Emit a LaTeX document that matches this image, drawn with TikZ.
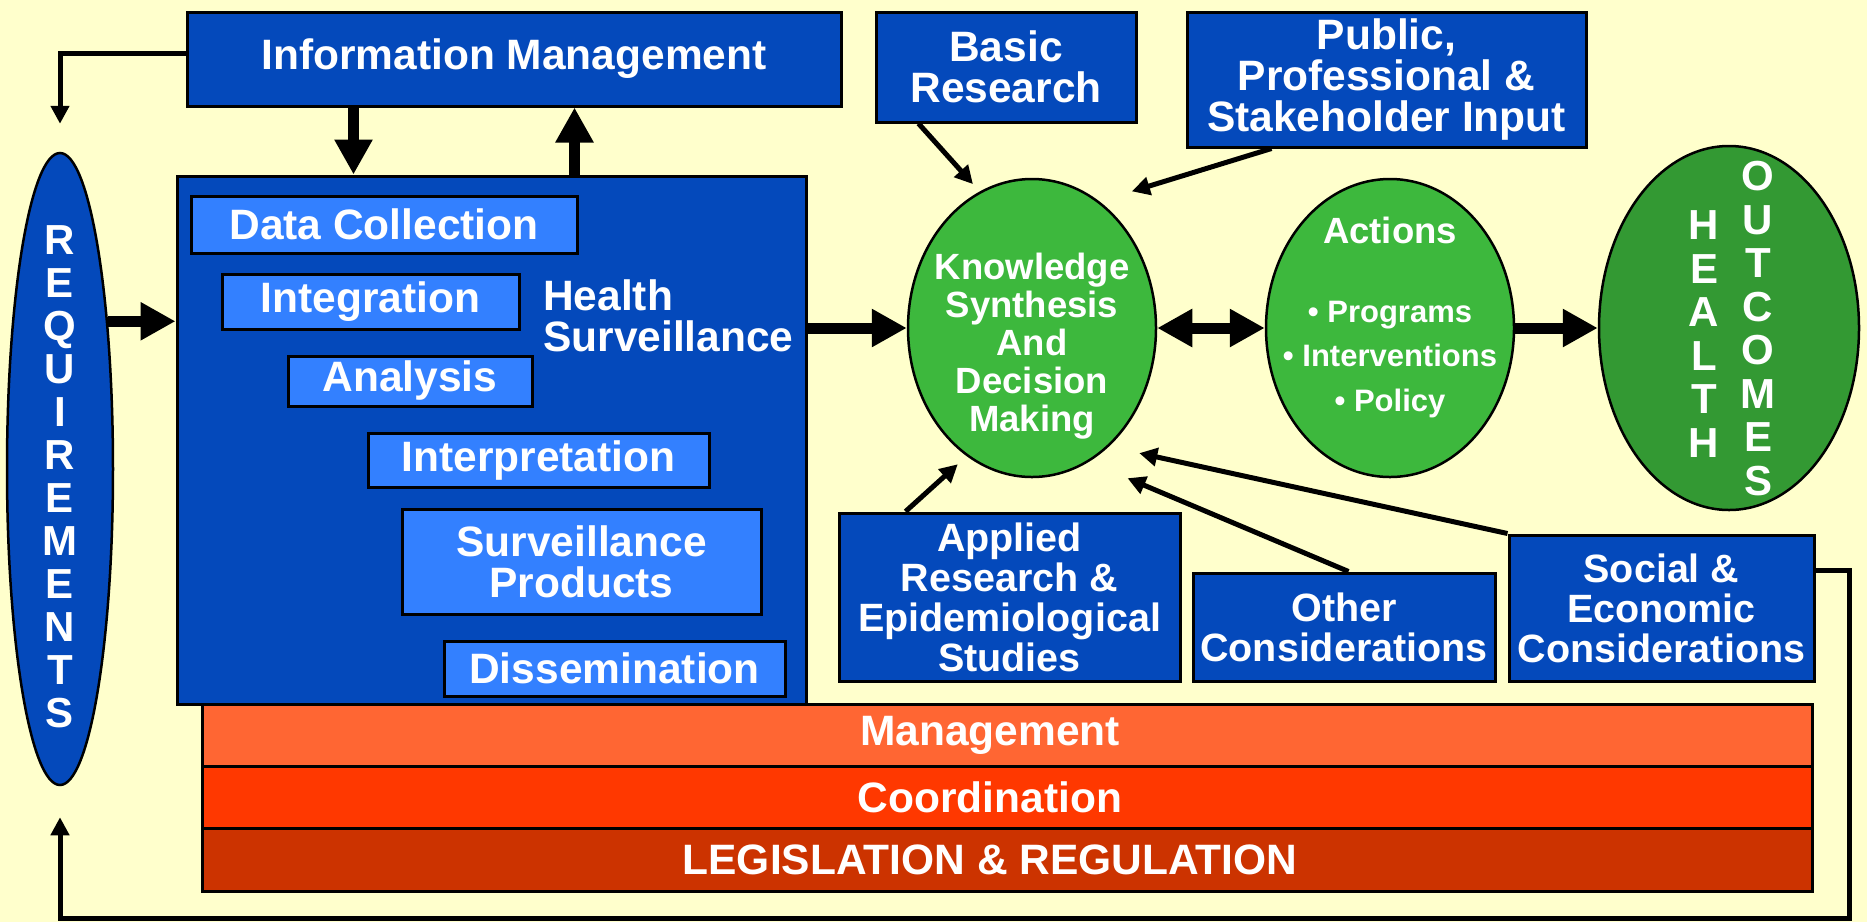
\documentclass[tikz,border=0pt]{standalone}
\usepackage{fontspec}
\setmainfont{Liberation Sans}
\usetikzlibrary{shapes.geometric, arrows.meta, positioning, calc}
\definecolor{paper}{RGB}{255,255,204}
\definecolor{darkblue}{RGB}{4,73,187}
\definecolor{lightblue}{RGB}{51,128,255}
\definecolor{leafgreen}{RGB}{61,184,61}
\definecolor{deepgreen}{RGB}{51,153,51}
\definecolor{mgmtorange}{RGB}{255,102,51}
\definecolor{coordred}{RGB}{255,56,0}
\definecolor{legisred}{RGB}{204,51,0}
\newcommand{\boxfont}{\fontsize{42.5}{41}\selectfont\bfseries}
\newcommand{\barpad}{\hspace*{34pt}}

\begin{document}
\begin{tikzpicture}[
    x=1pt, y=-1pt,
    box/.style={rectangle, draw=black, line width=3pt, fill=darkblue, text=white, align=center, inner sep=0pt, font=\boxfont},
    subbox/.style={box, fill=lightblue},
    smallbox/.style={box, font=\fontsize{39.5}{40}\selectfont\bfseries},
    bar/.style={box, minimum width=1610pt, minimum height=62pt},
    oval/.style={ellipse, draw=black, line width=2.5pt, fill=leafgreen, inner sep=0pt},
    ovaltext/.style={text=white, align=center, inner sep=0pt},
    bigarrow/.style={-{Triangle[length=35pt,width=36pt]}, line width=11pt},
    bothways/.style={{Triangle[length=35pt,width=36pt]}-{Triangle[length=35pt,width=36pt]}, line width=11pt},
    thinarrow/.style={-{Triangle[length=18pt,width=18pt]}, line width=5pt}
]
% Background
\fill[paper] (0,0) rectangle (1867,922);
\useasboundingbox (0,0) rectangle (1867,922);

% Top row
\node[box, minimum width=654pt, minimum height=94pt] (info) at (514,59) {Information Management};
\node[box, minimum width=260pt, minimum height=110pt] (basic) at (1006,67) {Basic\\Research};
\node[box, minimum width=399pt, minimum height=135pt] (pub) at (1386.5,79.5) {Public,\\Professional \&\\Stakeholder Input};

% Requirements
\node[oval, fill=darkblue, minimum width=106pt, minimum height=632pt] (req) at (60,469) {};
\node[ovaltext, font=\fontsize{42}{43}\selectfont\bfseries] (reqtext) at (60,476.5) {R\\E\\Q\\U\\I\\R\\E\\M\\E\\N\\T\\S};

% Health surveillance
\node[box, minimum width=629pt, minimum height=528pt] (hs) at (491.5,440) {};
\node[ovaltext, anchor=west, align=left, font=\boxfont] (hslabel) at (543,316) {Health\\Surveillance};
\node[subbox, minimum width=386pt, minimum height=57pt] (dc) at (384,224.5) {Data Collection};
\node[subbox, minimum width=297pt, minimum height=55pt] (integ) at (370.5,301.5) {Integration};
\node[subbox, minimum width=244pt, minimum height=50pt] (anal) at (410,381) {Analysis};
\node[subbox, minimum width=341pt, minimum height=54pt] (interp) at (538.5,460) {Interpretation};
\node[subbox, minimum width=359pt, minimum height=105pt] (sprod) at (581.5,561.5) {Surveillance\\Products};
\node[subbox, minimum width=341pt, minimum height=55pt] (dissem) at (614.5,668.5) {Dissemination};

% Bars
\node[bar, fill=mgmtorange] (mgmt) at (1007,735) {Management\barpad};
\node[bar, fill=coordred] (coord) at (1007,797) {Coordination\barpad};
\node[bar, fill=legisred, minimum height=63pt] (legis) at (1007,859.5) {LEGISLATION \& REGULATION\barpad};

% Knowledge, actions, outcomes
\node[oval, minimum width=248pt, minimum height=298pt] (kn) at (1032,328) {};
\node[ovaltext, font=\fontsize{36.5}{38}\selectfont\bfseries] (kntext) at (1032,346.6) {Knowledge\\Synthesis\\And\\Decision\\Making};
\node[oval, minimum width=248pt, minimum height=298pt] (act) at (1390,328) {};
\node[ovaltext, anchor=base, font=\fontsize{36.5}{38}\selectfont\bfseries] (acttitle) at (1390,243) {Actions};
\node[ovaltext, font=\fontsize{31}{44.5}\selectfont\bfseries] (actlist) at (1390,359.5) {• Programs\\• Interventions\\• Policy};
\node[oval, fill=deepgreen, minimum width=260pt, minimum height=364pt] (outc) at (1729,328) {};
\node[ovaltext, font=\fontsize{42}{43.5}\selectfont\bfseries] (outh) at (1704,334) {H\\E\\A\\L\\T\\H};
\node[ovaltext, font=\fontsize{42}{43.5}\selectfont\bfseries] (outo) at (1758,328.5) {O\\U\\T\\C\\O\\M\\E\\S};

% Lower inputs
\node[smallbox, minimum width=341pt, minimum height=168pt] (appl) at (1009.5,597) {Applied\\Research \&\\Epidemiological\\Studies};
\node[smallbox, minimum width=302pt, minimum height=108pt] (other) at (1344,627) {Other\\Considerations};
\node[smallbox, minimum width=305pt, minimum height=146pt] (social) at (1661.5,608) {Social \&\\Economic\\Considerations};

% Information flow
\draw[thinarrow, shorten >=28pt] ([yshift=6pt]info.west) -| (req.north);
\draw[bigarrow] ([xshift=168pt]info.south west) -- ([xshift=178pt]hs.north west);
\draw[bigarrow] ([xshift=399pt]hs.north west) -- ([xshift=389pt]info.south west);

% Main chain
\draw[bigarrow] (req.72) -- (req.72 -| hs.west);
\draw[bigarrow] (kn.west -| hs.east) -- (kn.west);
\draw[bothways] (kn.east) -- (act.west);
\draw[bigarrow] (act.east) -- (outc.west);

% Inputs to knowledge synthesis
\draw[thinarrow, shorten >=10pt] ([xshift=44pt]basic.south west) -- (kn.111);
\draw[thinarrow, shorten >=34pt] ([xshift=86pt]pub.south west) -- (kn.62);
\draw[thinarrow, shorten >=12pt] ([xshift=68pt]appl.north west) -- (kn.243);
\draw[thinarrow, shorten >=42pt] ([xshift=157pt]other.north west) -- (kn.293);
\draw[thinarrow, shorten >=31pt] (social.north west) -- (kn.303);

% Feedback loop
\coordinate (loopcorner) at (1849,918);
\draw[thinarrow, shorten >=31pt] ([yshift=38pt]social.east) -| (loopcorner) -| (req.south);

\end{tikzpicture}
\end{document}
